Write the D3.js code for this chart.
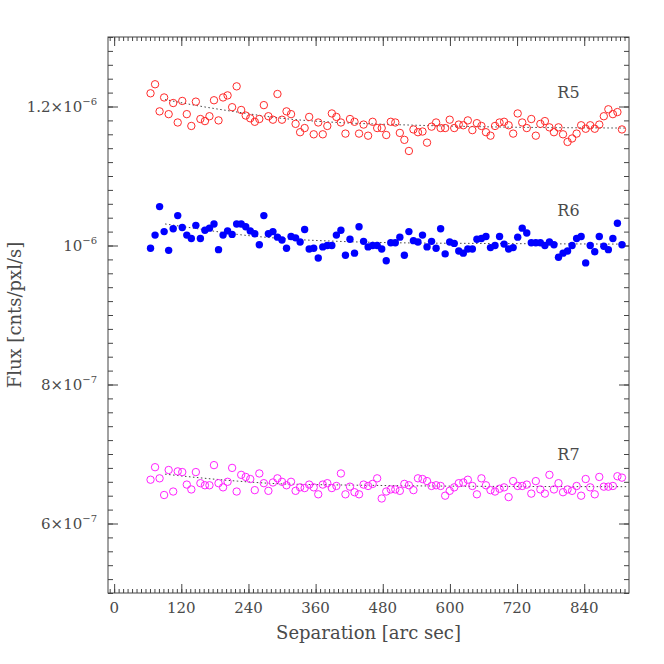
<!DOCTYPE html>
<html><head><meta charset="utf-8">
<script src="https://cdn.jsdelivr.net/npm/d3@7"></script>
<style>
body{margin:0;background:#fff}
text{font-family:"DejaVu Serif","Liberation Serif",serif;fill:#4a4a4a}
</style>
</head><body><svg id="c" width="664" height="664"></svg>
<script>
// Separation [arc sec]
const sep = [65.0,73.1,81.2,89.3,97.4,105.5,113.6,121.7,129.8,137.9,
146.0,154.1,162.2,170.3,178.4,186.5,194.6,202.7,210.8,218.9,
227.0,235.1,243.2,251.3,259.4,267.5,275.6,283.7,291.8,299.9,
308.0,316.1,324.2,332.3,340.4,348.5,356.6,364.7,372.8,380.9,
389.0,397.1,405.2,413.3,421.4,429.5,437.6,445.7,453.8,461.9,
470.0,478.1,486.2,494.3,502.4,510.5,518.6,526.7,534.8,542.9,
551.0,559.1,567.2,575.3,583.4,591.5,599.6,607.7,615.8,623.9,
632.0,640.1,648.2,656.3,664.4,672.5,680.6,688.7,696.8,704.9,
713.0,721.1,729.2,737.3,745.4,753.5,761.6,769.7,777.8,785.9,
794.0,802.1,810.2,818.3,826.4,834.5,842.6,850.7,858.8,866.9,
875.0,883.1,891.2,899.3,907.4];
// Flux in units of 1e-7 cnts/pxl/s
const r5 = [12.19,12.32,11.93,12.13,11.89,12.05,11.77,12.08,11.89,11.72,
12.07,11.82,11.79,11.86,12.09,11.80,12.13,12.16,11.99,12.29,
11.95,11.87,11.83,11.78,11.82,12.02,11.86,11.81,12.18,11.81,
11.93,11.89,11.75,11.63,11.69,11.85,11.60,11.77,11.60,11.72,
11.90,11.85,11.77,11.61,11.82,11.78,11.61,11.74,11.58,11.78,
11.69,11.69,11.59,11.78,11.77,11.62,11.52,11.36,11.67,11.63,
11.64,11.48,11.71,11.77,11.69,11.69,11.81,11.69,11.74,11.73,
11.80,11.66,11.76,11.72,11.63,11.58,11.72,11.77,11.78,11.73,
11.61,11.90,11.77,11.69,11.82,11.58,11.75,11.79,11.70,11.63,
11.70,11.60,11.49,11.54,11.61,11.73,11.68,11.73,11.68,11.74,
11.86,11.96,11.89,11.92,11.67];
const r6 = [9.96,10.15,10.56,10.20,9.93,10.24,10.43,10.26,10.15,10.10,
10.29,10.10,10.22,10.25,10.31,9.94,10.15,10.21,10.16,10.31,
10.31,10.27,10.21,10.17,10.01,10.43,10.17,10.20,10.12,10.08,
9.96,10.13,10.11,10.05,10.23,9.95,9.96,9.82,9.98,10.00,
10.00,10.15,10.22,9.86,10.09,9.89,10.27,10.06,9.98,10.00,
10.00,9.95,9.78,10.04,10.04,10.12,9.86,10.20,10.07,10.05,
10.15,9.98,10.06,9.96,10.24,9.88,10.05,10.03,9.92,9.89,
9.95,9.95,10.09,10.10,10.13,9.97,10.00,10.13,10.02,9.95,
9.97,10.12,10.25,10.18,10.04,10.04,10.04,10.00,10.05,10.01,
9.83,9.89,9.92,10.00,10.10,10.13,9.75,10.00,9.91,10.13,
9.99,9.94,10.10,10.32,10.01];
const r7 = [6.63,6.81,6.65,6.41,6.77,6.46,6.75,6.74,6.56,6.49,
6.74,6.58,6.55,6.55,6.84,6.58,6.52,6.60,6.80,6.46,
6.70,6.67,6.64,6.48,6.72,6.58,6.47,6.59,6.65,6.60,
6.55,6.60,6.47,6.52,6.51,6.56,6.52,6.42,6.56,6.58,
6.51,6.54,6.72,6.42,6.53,6.45,6.42,6.56,6.54,6.57,
6.65,6.36,6.46,6.49,6.49,6.47,6.57,6.55,6.48,6.65,
6.64,6.61,6.54,6.55,6.54,6.40,6.47,6.52,6.58,6.59,
6.63,6.54,6.42,6.65,6.55,6.48,6.46,6.50,6.52,6.38,
6.61,6.54,6.54,6.56,6.43,6.61,6.49,6.43,6.70,6.49,
6.58,6.45,6.49,6.47,6.54,6.40,6.64,6.52,6.42,6.67,
6.53,6.53,6.54,6.68,6.66];
// dotted fit curves
const fitSep = [91,150,220,300,400,500,650,915];
const fitR5 = [12.10,12.01,11.92,11.83,11.77,11.74,11.71,11.69];
const fitR6 = [10.31,10.24,10.16,10.10,10.06,10.04,10.03,10.02];
const fitR7 = [6.71,6.66,6.61,6.57,6.555,6.545,6.535,6.53];
// labels
const seriesNames = ["R5","R6","R7"];
const xTicks = [0,120,240,360,480,600,720,840];
const yTicks = [6,8,10,12];
const yTickMant = ["6×","8×","","1.2×"];
const yTickExp = ["−7","−7","−6","−6"];

const m = {l:108, r:629, t:37, b:593};
const svg = d3.select("#c");
svg.append("rect").attr("width",664).attr("height",664).attr("fill","#fff");
const x = d3.scaleLinear().domain([-11,920]).range([m.l,m.r]);
const y = d3.scaleLinear().domain([5,13]).range([m.b,m.t]);
const axisColor = "#444";

const xMinor = d3.range(-8, 920, 8);
const yMinor = d3.range(5, 13.001, 0.2);

function styleAxis(g){
  g.select(".domain").remove();
  g.selectAll("line").attr("stroke",axisColor).attr("stroke-width",1);
  g.selectAll("text").remove();
}
const mk = (fn, sc, pos, vals, size) => {
  const g = svg.append("g").attr("transform", pos);
  g.call(fn(sc).tickValues(vals).tickSize(-size).tickFormat(""));
  styleAxis(g);
};
mk(d3.axisBottom, x, `translate(0,${m.b})`, xMinor, 4);
mk(d3.axisBottom, x, `translate(0,${m.b})`, xTicks, 9);
mk(d3.axisTop, x, `translate(0,${m.t})`, xMinor, 4);
mk(d3.axisTop, x, `translate(0,${m.t})`, xTicks, 9);
mk(d3.axisLeft, y, `translate(${m.l},0)`, yMinor, 5);
mk(d3.axisLeft, y, `translate(${m.l},0)`, yTicks, 10);
mk(d3.axisRight, y, `translate(${m.r},0)`, yMinor, 5);
mk(d3.axisRight, y, `translate(${m.r},0)`, yTicks, 10);

svg.append("rect").attr("x",m.l).attr("y",m.t).attr("width",m.r-m.l).attr("height",m.b-m.t)
  .attr("fill","none").attr("stroke",axisColor).attr("stroke-width",1);

// tick labels
svg.append("g").selectAll("text").data(xTicks).join("text")
  .attr("x", d=>x(d)).attr("y", 613).attr("text-anchor","middle")
  .attr("font-size",15).text(d=>d);
const yl = svg.append("g").selectAll("text").data(yTicks).join("text")
  .attr("x", 97).attr("y", d=>y(d)+5).attr("text-anchor","end").attr("font-size",15);
yl.append("tspan").text((d,i)=>yTickMant[i]+"10");
yl.append("tspan").attr("font-size",10).attr("dy",-7).text((d,i)=>yTickExp[i]);

// titles
svg.append("text").attr("x",(m.l+m.r)/2).attr("y",639).attr("text-anchor","middle")
  .attr("font-size",18).text("Separation [arc sec]");
svg.append("text").attr("transform",`translate(21,${(m.t+m.b)/2}) rotate(-90)`)
  .attr("text-anchor","middle").attr("font-size",18).text("Flux [cnts/pxl/s]");

// fit lines
const line = d3.line().x((d,i)=>x(fitSep[i])).y(d=>y(d)).curve(d3.curveMonotoneX);
[fitR5, fitR6, fitR7].forEach(f=>{
  svg.append("path").attr("d", line(f)).attr("fill","none")
    .attr("stroke","#444").attr("stroke-width",1).attr("stroke-dasharray","1.5,2.5");
});

// points
const gp = svg.append("g");
gp.selectAll(".p5").data(r5).join("circle").attr("cx",(d,i)=>x(sep[i])).attr("cy",d=>y(d))
  .attr("r",3.7).attr("fill","none").attr("stroke","#ff2a2a").attr("stroke-width",1);
gp.selectAll(".p6").data(r6).join("circle").attr("cx",(d,i)=>x(sep[i])).attr("cy",d=>y(d))
  .attr("r",3.7).attr("fill","#0000ff");
gp.selectAll(".p7").data(r7).join("circle").attr("cx",(d,i)=>x(sep[i])).attr("cy",d=>y(d))
  .attr("r",3.7).attr("fill","none").attr("stroke","#ff22ff").attr("stroke-width",1);

// series labels
const labelY = [12.12, 10.43, 6.91];
svg.append("g").selectAll("text").data(seriesNames).join("text")
  .attr("x", x(792)).attr("y",(d,i)=>y(labelY[i])).attr("font-size",16).text(d=>d);
</script></body></html>
